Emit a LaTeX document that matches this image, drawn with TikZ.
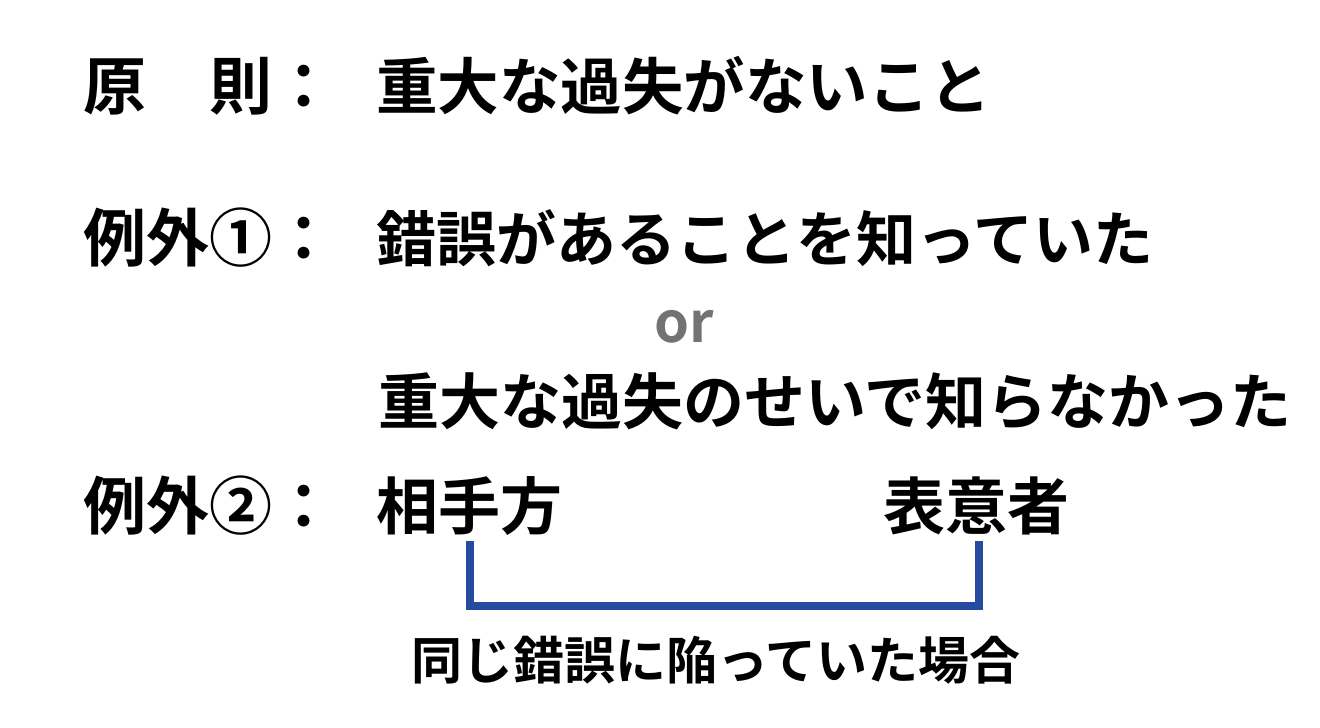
\documentclass[tikz,border=0pt]{standalone}
\usepackage{fontspec}
\newfontfamily\jp{Noto Sans CJK JP}[BoldFont={* Bold}]
\usetikzlibrary{positioning}
\definecolor{bracketblue}{RGB}{38,75,160}
\definecolor{orgray}{RGB}{115,115,115}
\tikzset{
  headtext/.style={anchor=base west,inner sep=0pt,font=\jp\bfseries\fontsize{63}{70}\selectfont},
  jtext/.style={anchor=base west,inner sep=0pt,font=\jp\bfseries\fontsize{#1}{70}\selectfont},
  jtext/.default=61,
  ortext/.style={anchor=base west,inner sep=0pt,text=orgray,font=\jp\bfseries\fontsize{56}{60}\selectfont},
  subtext/.style={anchor=base west,inner sep=0pt,font=\jp\bfseries\fontsize{51}{60}\selectfont},
  bracket/.style={draw=bracketblue,line width=8pt,line join=miter}
}
\begin{document}
\begin{tikzpicture}[x=1pt,y=-1pt]
\useasboundingbox (0,0) rectangle (1320,728);
% principle
\node[headtext] (gensoku)      at (83,109)  {原　則：};
\node[jtext=61.5] (gensoku-text) at (376,109) {重大な過失がないこと};
% exception 1
\node[headtext] (reigai1)      at (83,261)  {例外①：};
\node[jtext=60] (sakugo)       at (376,261) {錯誤があることを知っていた};
\node[ortext]   (or)           at (654,342) {or};
\node[jtext]    (juudai)       at (378,424) {重大な過失のせいで知らなかった};
% exception 2
\node[headtext] (reigai2)      at (83,529)  {例外②：};
\node[jtext=62] (aite)         at (376,529) {相手方};
\node[jtext=62] (hyoui)        at (883,529) {表意者};
\coordinate (aite-foot)      at (470,541);
\coordinate (hyoui-foot)     at (979,541);
\coordinate (bracket-corner) at (470,606);
\draw[bracket] (aite-foot) -- (bracket-corner) -| (hyoui-foot);
\node[subtext]  (baai)         at (411,679) {同じ錯誤に陥っていた場合};
\end{tikzpicture}
\end{document}
